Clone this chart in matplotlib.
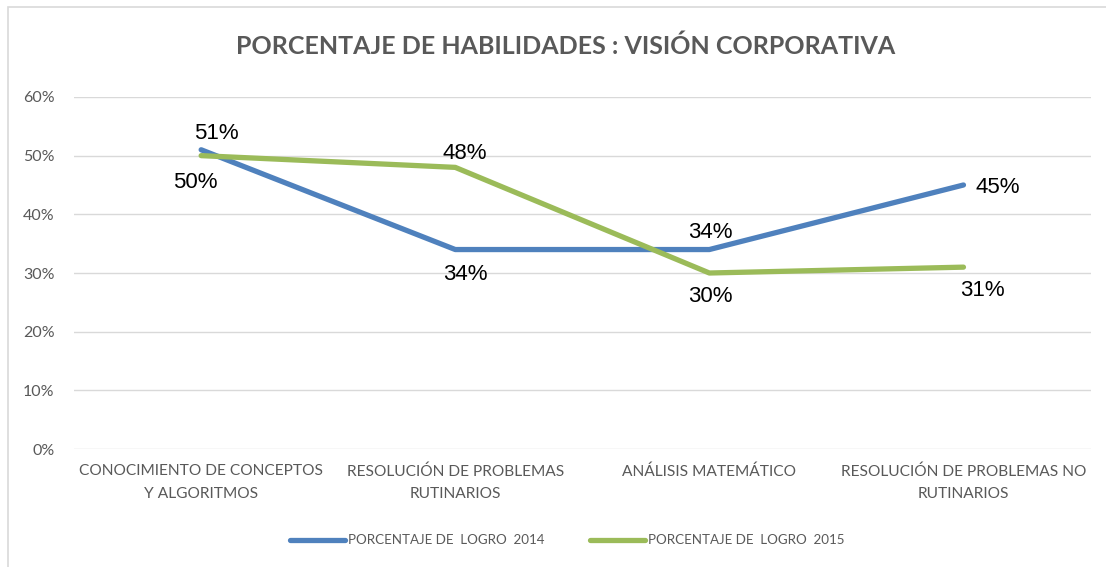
import matplotlib.pyplot as plt
from matplotlib.patches import Rectangle
from matplotlib.ticker import PercentFormatter

categories = ["CONOCIMIENTO DE CONCEPTOS\nY ALGORITMOS",
              "RESOLUCIÓN DE PROBLEMAS\nRUTINARIOS",
              "ANÁLISIS MATEMÁTICO",
              "RESOLUCIÓN DE PROBLEMAS NO\nRUTINARIOS"]
logro_2014 = [51, 34, 34, 45]
logro_2015 = [50, 48, 30, 31]
series_names = ["PORCENTAJE DE  LOGRO  2014", "PORCENTAJE DE  LOGRO  2015"]

gray = "#595959"
blue = "#4F81BD"
green = "#9BBB59"

plt.rcParams['font.family'] = ['Lato', 'DejaVu Sans']

fig = plt.figure(figsize=(11.06, 5.67), dpi=100)
ax = fig.add_axes([0.067, 0.208, 0.919, 0.621])

x = range(len(categories))
ax.plot(x, logro_2014, color=blue, lw=3.8, solid_capstyle='round', label=series_names[0], zorder=3)
ax.plot(x, logro_2015, color=green, lw=3.8, solid_capstyle='round', label=series_names[1], zorder=4)

# data labels (offsets in points)
off_2014 = [(11, 12), (7, -18), (1, 12), (25, -2)]
off_2015 = [(-4, -19), (7, 10), (1, -17), (14, -17)]
for i in x:
    ax.annotate(f"{logro_2014[i]}%", (i, logro_2014[i]), xytext=off_2014[i],
                textcoords='offset points', ha='center', va='center',
                fontsize=16, family='Liberation Sans', color='black')
    ax.annotate(f"{logro_2015[i]}%", (i, logro_2015[i]), xytext=off_2015[i],
                textcoords='offset points', ha='center', va='center',
                fontsize=16, family='Liberation Sans', color='black')

ax.set_xlim(-0.5, 3.5)
ax.set_ylim(0, 60)
ax.set_yticks(range(0, 61, 10))
ax.yaxis.set_major_formatter(PercentFormatter(decimals=0))
ax.set_xticks(list(x))
ax.set_xticklabels(categories, fontsize=11.2, color=gray, linespacing=1.75)
ax.tick_params(axis='y', labelsize=11.5, colors=gray, length=0, pad=14)
ax.tick_params(axis='x', length=0, pad=11)
ax.grid(axis='y', color='#D9D9D9', lw=1)
ax.set_axisbelow(True)
for s in ax.spines.values():
    s.set_visible(False)

fig.text(0.511, 0.918, "PORCENTAJE DE HABILIDADES : VISIÓN CORPORATIVA",
         ha='center', va='center', fontsize=18, fontweight='bold', color=gray)

leg = fig.legend(loc='center', bbox_to_anchor=(0.513, 0.047), ncol=2, frameon=False,
                 fontsize=9.6, handlelength=4.1, columnspacing=3.4, handletextpad=0.25)
for t in leg.get_texts():
    t.set_color(gray)

fig.patches.append(Rectangle((0.007, -0.01), 1.0, 0.998, transform=fig.transFigure,
                             fill=False, edgecolor='#D9D9D9', lw=1.2))

fig.savefig("out.png", dpi=100)
